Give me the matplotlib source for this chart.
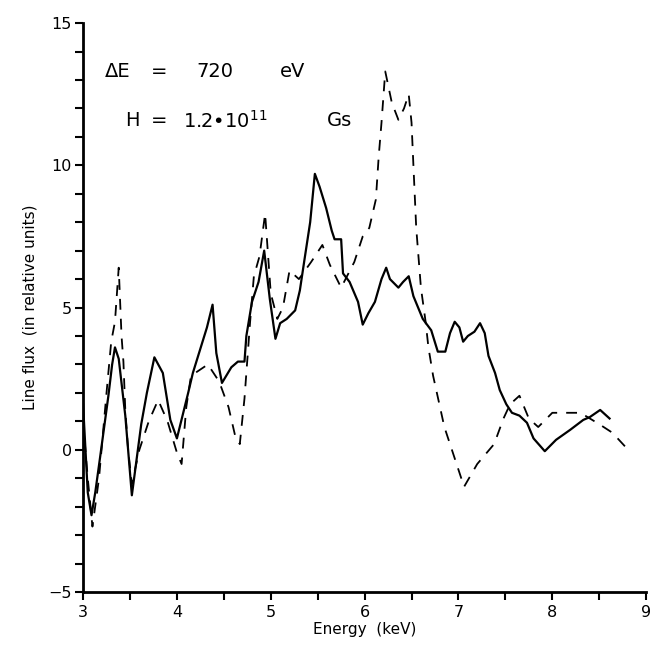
import numpy as np
import matplotlib
matplotlib.use('Agg')
import matplotlib.pyplot as plt
from matplotlib.ticker import MultipleLocator

# === Dati ===
energy_solid = [3.0, 3.05, 3.09, 3.13, 3.18, 3.27, 3.31, 3.34, 3.38, 3.45, 3.52,
                3.62, 3.68, 3.76, 3.85, 3.93, 4.0, 4.12, 4.17, 4.32, 4.38, 4.42,
                4.48, 4.58, 4.65, 4.72, 4.74, 4.8, 4.87, 4.93, 4.99, 5.05, 5.1,
                5.17, 5.26, 5.31, 5.36, 5.42, 5.47, 5.52, 5.59, 5.65, 5.68, 5.75,
                5.77, 5.84, 5.93, 5.98, 6.04, 6.11, 6.18, 6.23, 6.27, 6.36, 6.41,
                6.47, 6.52, 6.62, 6.71, 6.78, 6.86, 6.91, 6.96, 7.01, 7.05, 7.1,
                7.17, 7.23, 7.28, 7.32, 7.39, 7.44, 7.51, 7.57, 7.65, 7.73, 7.8,
                7.92, 8.04, 8.19, 8.33, 8.4, 8.51, 8.61]
flux_solid = [1.6, -1.5, -2.3, -1.5, -0.3, 1.9, 3.0, 3.6, 3.2, 1.2, -1.6,
              0.9, 2.0, 3.25, 2.7, 1.05, 0.4, 2.0, 2.7, 4.3, 5.1, 3.4,
              2.35, 2.9, 3.1, 3.1, 4.0, 5.2, 5.9, 7.0, 5.3, 3.9, 4.45,
              4.6, 4.9, 5.6, 6.7, 8.0, 9.7, 9.25, 8.5, 7.7, 7.4, 7.4,
              6.2, 5.9, 5.2, 4.4, 4.8, 5.2, 6.0, 6.4, 6.0, 5.7, 5.9,
              6.1, 5.4, 4.6, 4.2, 3.45, 3.45, 4.1, 4.5, 4.3, 3.8, 4.0,
              4.15, 4.45, 4.1, 3.3, 2.7, 2.1, 1.6, 1.3, 1.2, 0.95, 0.4,
              -0.05, 0.35, 0.7, 1.05, 1.15, 1.4, 1.1]

energy_dash = [3.0, 3.05, 3.1, 3.17, 3.25, 3.3, 3.34, 3.38, 3.41, 3.43, 3.45,
               3.48, 3.52, 3.6, 3.7, 3.8, 3.9, 4.0, 4.05, 4.1, 4.15, 4.33,
               4.45, 4.55, 4.62, 4.67, 4.72, 4.78, 4.82, 4.88, 4.94, 4.97, 5.0,
               5.07, 5.13, 5.2, 5.3, 5.43, 5.55, 5.63, 5.75, 5.89, 5.98, 6.05,
               6.12, 6.15, 6.18, 6.2, 6.22, 6.29, 6.36, 6.42, 6.47, 6.5, 6.52,
               6.55, 6.6, 6.65, 6.68, 6.73, 6.79, 6.85, 6.95, 7.06, 7.2, 7.38,
               7.48, 7.55, 7.65, 7.75, 7.85, 8.0, 8.13, 8.3, 8.4, 8.5, 8.64, 8.78]
flux_dash = [1.0, -1.0, -2.7, -1.0, 2.0, 3.8, 4.5, 6.4, 4.0, 3.1, 1.4,
             0.0, -1.2, 0.0, 1.0, 1.75, 1.0, -0.1, -0.5, 1.5, 2.6, 3.0,
             2.4, 1.5, 0.5, 0.2, 1.8, 4.5, 6.1, 6.8, 8.3, 6.9, 5.5,
             4.6, 5.0, 6.3, 6.0, 6.6, 7.2, 6.5, 5.7, 6.6, 7.5, 7.8,
             8.8, 10.3, 11.5, 12.4, 13.3, 12.2, 11.6, 12.0, 12.5, 11.5, 10.0,
             7.8, 5.7, 4.5, 3.6, 2.6, 1.7, 0.8, -0.2, -1.3, -0.5, 0.2,
             1.1, 1.6, 1.9, 1.1, 0.8, 1.3, 1.3, 1.3, 1.1, 0.9, 0.6, 0.1]

x_ticks = [3, 4, 5, 6, 7, 8, 9]
y_ticks = [-5, 0, 5, 10, 15]

# === Plot ===
fig = plt.figure(figsize=(6.54, 6.48), dpi=100)
ax = fig.add_axes([0.127, 0.0864, 0.861, 0.878])

ax.plot(energy_solid, flux_solid, color='black', lw=1.6)
ax.plot(energy_dash, flux_dash, color='black', lw=1.3, dashes=(6, 5))

ax.set_xlim(3, 9)
ax.set_ylim(-5, 15)
ax.set_xticks(x_ticks)
ax.set_yticks(y_ticks)
ax.xaxis.set_minor_locator(MultipleLocator(0.5))
ax.yaxis.set_minor_locator(MultipleLocator(1))
ax.tick_params(which='both', direction='out', length=6, width=1.5, labelsize=11.5)
ax.tick_params(axis='x', pad=3)
ax.tick_params(axis='y', pad=2)

for side in ['top', 'right']:
    ax.spines[side].set_visible(False)
for side in ['left', 'bottom']:
    ax.spines[side].set_linewidth(2)

ax.set_xlabel('Energy  (keV)', fontsize=11, labelpad=2)
ax.set_ylabel('Line flux  (in relative units)', fontsize=11, labelpad=8)

# annotazioni
fs = 14
ax.text(3.23, 13.28, 'ΔE', fontsize=fs, va='center')
ax.text(3.72, 13.28, '=', fontsize=fs, va='center')
ax.text(4.21, 13.28, '720', fontsize=fs, va='center')
ax.text(5.1, 13.28, 'eV', fontsize=fs, va='center')
ax.text(3.45, 11.56, 'H', fontsize=fs, va='center')
ax.text(3.72, 11.56, '=', fontsize=fs, va='center')
ax.text(4.07, 11.56, '1.2•10$^{11}$', fontsize=fs, va='center')
ax.text(5.6, 11.56, 'Gs', fontsize=fs, va='center')

plt.savefig('out.png', dpi=100)
